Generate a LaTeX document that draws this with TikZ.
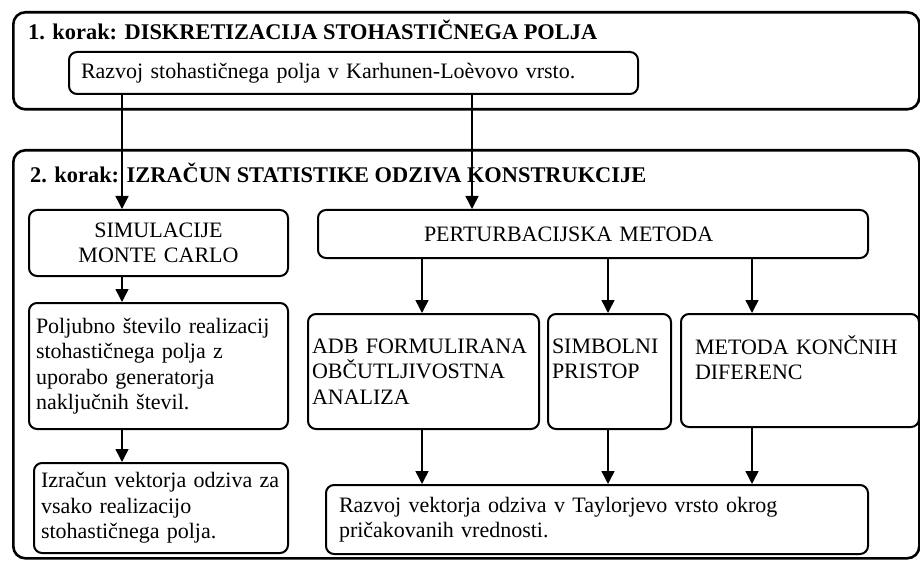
\documentclass[tikz,border=0pt]{standalone}
\usepackage{fontspec}
\setmainfont{Liberation Serif}
\usetikzlibrary{arrows.meta,positioning}

\newcommand{\boxfont}{\fontsize{22}{25.5}\selectfont}
\newcommand{\titlefont}{\fontsize{22.4}{25.5}\selectfont\bfseries}

\tikzset{
  frame/.style={draw, line width=2.6pt, rounded corners=12pt, anchor=north west, inner sep=0pt},
  box/.style={draw, line width=2pt, rounded corners=8pt, anchor=north west,
    inner ysep=0pt, align=left, font=\boxfont},
  title/.style={anchor=base west, inner sep=0pt, font=\titlefont},
  arr/.style={-{Triangle[width=13pt,length=13pt]}, line width=1.5pt},
}

\begin{document}
\begin{tikzpicture}[x=1pt,y=-1pt]
\useasboundingbox[fill=white] (0,0) rectangle (920,561);

% 1. korak
\node[frame, minimum width=906pt, minimum height=97pt] (korak1) at (12,11) {};
\node[title] (naslov1) at (28,40) {1. korak: DISKRETIZACIJA STOHASTIČNEGA POLJA};
\node[box, minimum width=569pt, minimum height=42pt, inner xsep=12pt, text width=545pt]
  (kl) at (68,51) {Razvoj stohastičnega polja v Karhunen-Loèvovo vrsto.};

% 2. korak
\node[frame, minimum width=906pt, minimum height=408pt] (korak2) at (12,149) {};
\node[title] (naslov2) at (30,183) {2. korak: IZRAČUN STATISTIKE ODZIVA KONSTRUKCIJE};

% Monte Carlo
\node[box, align=center, minimum width=259pt, minimum height=66pt, inner xsep=12pt, text width=235pt]
  (sim) at (28,209) {SIMULACIJE\\MONTE CARLO};
\node[box, minimum width=259pt, minimum height=126pt, inner xsep=7pt, text width=245pt]
  (polj) at (28,302) {Poljubno število realizacij\\stohastičnega polja z\\uporabo generatorja\\naključnih števil.};
\node[box, minimum width=254pt, minimum height=90pt, inner xsep=7pt, text width=240pt]
  (izr) at (33,462) {Izračun vektorja odziva za\\vsako realizacijo\\stohastičnega polja.};

% perturbacije
\node[box, minimum width=550pt, minimum height=48pt, inner xsep=106pt, text width=338pt]
  (pert) at (317,209) {PERTURBACIJSKA METODA};
\node[box, minimum width=231pt, minimum height=115pt, inner xsep=4pt, text width=223pt]
  (adb) at (307,313) {ADB FORMULIRANA\\OBČUTLJIVOSTNA\\ANALIZA};
\node[box, minimum width=123pt, minimum height=115pt, inner xsep=4pt, text width=115pt]
  (simb) at (547,313) {SIMBOLNI\\PRISTOP\\\mbox{}};
\node[box, minimum width=238pt, minimum height=113pt, inner xsep=14pt, text width=210pt]
  (met) at (680,313) {METODA KONČNIH\\DIFERENC\\\mbox{}};
\node[box, minimum width=542pt, minimum height=69pt, inner xsep=13pt, text width=516pt]
  (razv) at (325,484) {Razvoj vektorja odziva v Taylorjevo vrsto okrog\\pričakovanih vrednosti.};

\coordinate (mc) at (122,0);
\coordinate (pm) at (472,0);
\coordinate (x1) at (422,0);
\coordinate (x2) at (608,0);
\coordinate (x3) at (752,0);

\draw[arr] (kl.south -| mc) -- (sim.north -| mc);
\draw[arr] (kl.south -| pm) -- (pert.north -| pm);
\draw[arr] (sim.south -| mc) -- (polj.north -| mc);
\draw[arr] (polj.south -| mc) -- (izr.north -| mc);

\draw[arr] (pert.south -| x1) -- (adb.north -| x1);
\draw[arr] (pert.south -| x2) -- (simb.north -| x2);
\draw[arr] (pert.south -| x3) -- (met.north -| x3);
\draw[arr] (adb.south -| x1) -- (razv.north -| x1);
\draw[arr] (simb.south -| x2) -- (razv.north -| x2);
\draw[arr] (met.south -| x3) -- (razv.north -| x3);
\end{tikzpicture}
\end{document}
